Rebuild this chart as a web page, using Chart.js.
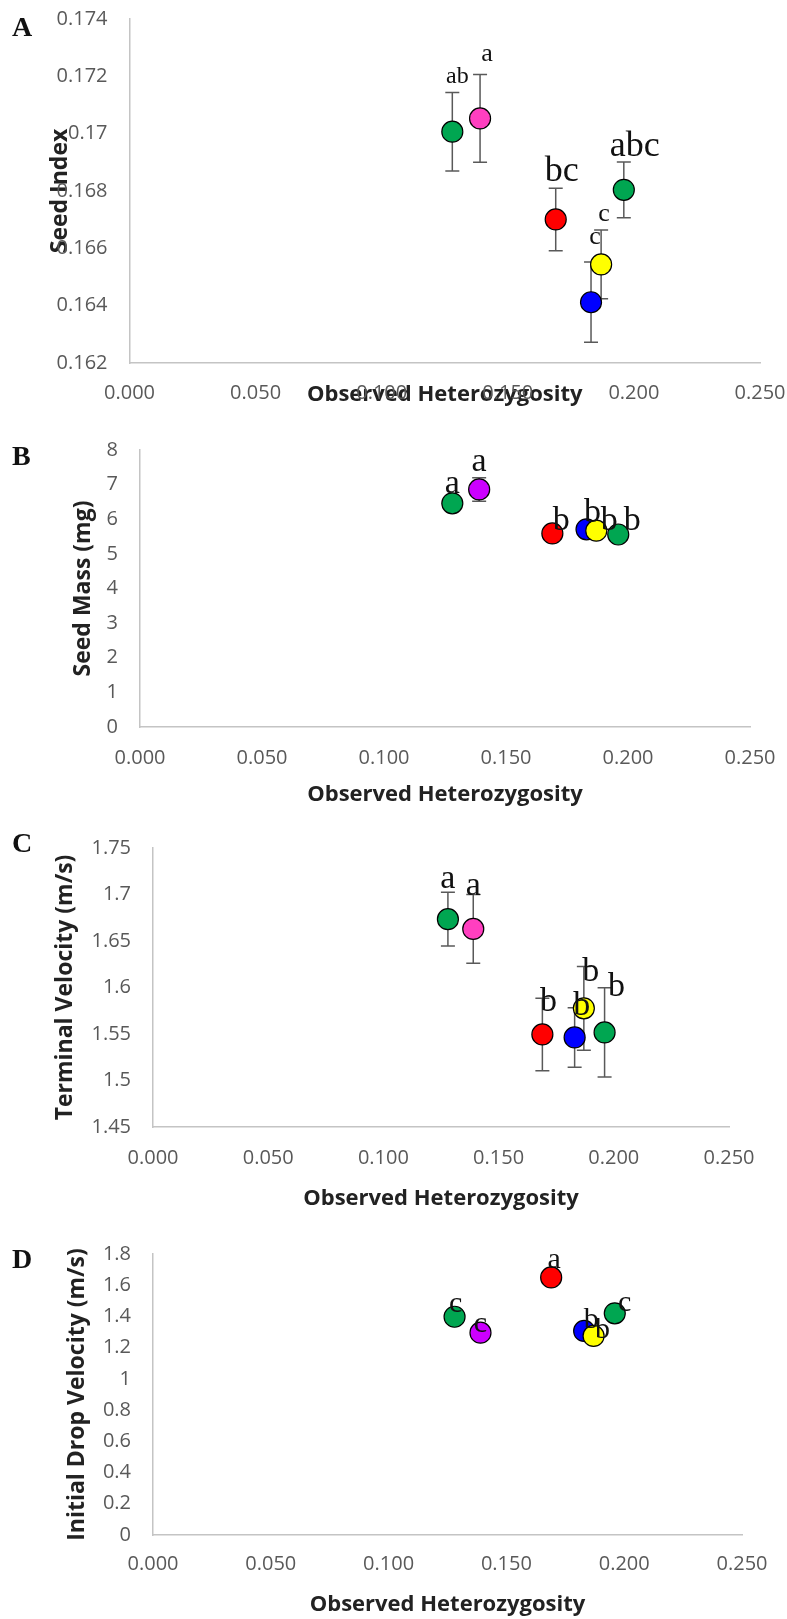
<!DOCTYPE html>
<html>
<head>
<meta charset="utf-8">
<script src="https://cdn.jsdelivr.net/npm/chart.js@4"></script>
<style>
  body { margin: 0; background: #fff; }
  #page { position: relative; width: 787px; height: 1619px; overflow: hidden; }
  .panel { position: absolute; left: 0; width: 787px; }
</style>
</head>
<body>
<div id="page"></div>
<script>
// order of accessions: green, pink/purple, red, blue, yellow, green
const heterozygosity = [0.128, 0.139, 0.169, 0.183, 0.187, 0.196];

const seedIndex = [0.17007, 0.17053, 0.16701, 0.16412, 0.16544, 0.16804];
const seedIndexErr = [0.00137, 0.00153, 0.00109, 0.0014, 0.0012, 0.00097];
const seedIndexGroups = ["ab", "a", "bc", "c", "c", "abc"];

const seedMass = [6.46, 6.86, 5.59, 5.71, 5.67, 5.56];
const seedMassErr = [0.15, 0.34, 0.15, 0.15, 0.15, 0.15];
const seedMassGroups = ["a", "a", "b", "b", "b", "b"];

const terminalVelocity = [1.6735, 1.663, 1.5495, 1.5463, 1.5776, 1.5517];
const terminalVelocityErr = [0.029, 0.037, 0.039, 0.032, 0.045, 0.048];
const terminalVelocityGroups = ["a", "a", "b", "b", "b", "b"];

const dropVelocity = [1.398, 1.296, 1.65, 1.307, 1.275, 1.42];
const dropVelocityGroups = ["c", "c", "a", "b", "b", "c"];

const xTickValues = [0, 0.05, 0.1, 0.15, 0.2, 0.25];
const xTickLabels = ["0.000", "0.050", "0.100", "0.150", "0.200", "0.250"];

const seedIndexTicks = [0.162, 0.164, 0.166, 0.168, 0.17, 0.172, 0.174];
const seedIndexTickLabels = ["0.162", "0.164", "0.166", "0.168", "0.17", "0.172", "0.174"];
const seedMassTicks = [0, 1, 2, 3, 4, 5, 6, 7, 8];
const seedMassTickLabels = ["0", "1", "2", "3", "4", "5", "6", "7", "8"];
const terminalTicks = [1.45, 1.5, 1.55, 1.6, 1.65, 1.7, 1.75];
const terminalTickLabels = ["1.45", "1.5", "1.55", "1.6", "1.65", "1.7", "1.75"];
const dropTicks = [0, 0.2, 0.4, 0.6, 0.8, 1, 1.2, 1.4, 1.6, 1.8];
const dropTickLabels = ["0", "0.2", "0.4", "0.6", "0.8", "1", "1.2", "1.4", "1.6", "1.8"];

const colorsPink = ["#00a651", "#ff3fc0", "#ff0000", "#0000ff", "#ffff00", "#00a651"];
const colorsPurple = ["#00a651", "#cc00ff", "#ff0000", "#0000ff", "#ffff00", "#00a651"];

const panels = [
  {
    letter: "A", top: 0, height: 420,
    area: { left: 129.5, right: 760, top: 19, bottom: 363 },
    xTitleY: 395, yTitleX: 60, tickGap: 30,
    yTitle: "Seed Index", values: seedIndex, errors: seedIndexErr, groups: seedIndexGroups,
    yTicks: seedIndexTicks, yTickLabels: seedIndexTickLabels, colors: colorsPink,
    letterBaseline: 36,
    nudge: [[5, -49], [7, -57], [6, -38], [4, -58], [3, -43], [11, -34]],
    sizes: [24, 26, 36, 26, 26, 36],
  },
  {
    letter: "B", top: 420, height: 400,
    area: { left: 140, right: 750, top: 450, bottom: 727 },
    xTitleY: 795, yTitleX: 83, tickGap: 31,
    yTitle: "Seed Mass (mg)", values: seedMass, errors: seedMassErr, groups: seedMassGroups,
    yTicks: seedMassTicks, yTickLabels: seedMassTickLabels, colors: colorsPurple,
    letterBaseline: 465,
    nudge: [[0, -10], [0, -18], [9, -3], [6, -7], [13, -1], [14, -4]],
    sizes: [34, 34, 34, 34, 34, 34],
  },
  {
    letter: "C", top: 820, height: 405,
    area: { left: 153, right: 729, top: 848, bottom: 1127 },
    xTitleY: 1199, yTitleX: 65, tickGap: 31,
    yTitle: "Terminal Velocity (m/s)", values: terminalVelocity, errors: terminalVelocityErr,
    groups: terminalVelocityGroups,
    yTicks: terminalTicks, yTickLabels: terminalTickLabels, colors: colorsPink,
    letterBaseline: 852,
    nudge: [[0, -31], [0, -34], [6, -23], [7, -22], [7, -27], [12, -36]],
    sizes: [34, 34, 34, 34, 34, 34],
  },
  {
    letter: "D", top: 1225, height: 394,
    area: { left: 153, right: 742, top: 1254, bottom: 1535 },
    xTitleY: 1605, yTitleX: 77, tickGap: 29,
    yTitle: "Initial Drop Velocity (m/s)", values: dropVelocity, errors: null,
    groups: dropVelocityGroups,
    yTicks: dropTicks, yTickLabels: dropTickLabels, colors: colorsPurple,
    letterBaseline: 1268,
    nudge: [[1, -5], [0, -1], [3, -9], [7, -3], [9, 2], [10, -2]],
    sizes: [30, 30, 30, 30, 30, 30],
  },
];

const tickFont = { family: "'Open Sans', sans-serif", size: 20, lineHeight: 1.2 };
const xTitleFont = { family: "'Open Sans', sans-serif", size: 22, weight: "bold", lineHeight: 1.2 };
const yTitleFont = { family: "'Open Sans', sans-serif", size: 23, weight: "bold", lineHeight: 1.2 };
const tickHalf = 20 * 1.2 / 2;
const xTitleHalf = 22 * 1.2 / 2;
const yTitleHalf = 23 * 1.2 / 2;

const errorBars = {
  id: "errorBars",
  beforeDatasetsDraw(chart, args, opts) {
    if (!opts.errors) return;
    const { ctx, scales: { x, y } } = chart;
    const pts = chart.data.datasets[0].data;
    ctx.save();
    ctx.strokeStyle = "#595959";
    ctx.lineWidth = 1.5;
    pts.forEach((p, i) => {
      const px = x.getPixelForValue(p.x);
      const top = y.getPixelForValue(p.y + opts.errors[i]);
      const bot = y.getPixelForValue(p.y - opts.errors[i]);
      ctx.beginPath();
      ctx.moveTo(px, top); ctx.lineTo(px, bot);
      ctx.moveTo(px - 7, top); ctx.lineTo(px + 7, top);
      ctx.moveTo(px - 7, bot); ctx.lineTo(px + 7, bot);
      ctx.stroke();
    });
    ctx.restore();
  },
};

const groupLetters = {
  id: "groupLetters",
  afterDatasetsDraw(chart, args, opts) {
    const { ctx, scales: { x, y } } = chart;
    const pts = chart.data.datasets[0].data;
    ctx.save();
    ctx.fillStyle = "#111";
    ctx.textAlign = "center";
    ctx.textBaseline = "alphabetic";
    pts.forEach((p, i) => {
      ctx.font = opts.sizes[i] + "px 'Liberation Serif', serif";
      ctx.fillText(opts.groups[i], x.getPixelForValue(p.x) + opts.nudge[i][0],
        y.getPixelForValue(p.y) + opts.nudge[i][1]);
    });
    ctx.font = "bold 28px 'Liberation Serif', serif";
    ctx.textAlign = "left";
    ctx.fillText(opts.letter, 12, opts.letterBaseline);
    ctx.restore();
  },
};

const page = document.getElementById("page");

for (const p of panels) {
  const box = document.createElement("div");
  box.className = "panel";
  box.style.top = p.top + "px";
  box.style.height = p.height + "px";
  const canvas = document.createElement("canvas");
  box.appendChild(canvas);
  page.appendChild(box);

  const bottomSpace = p.top + p.height - p.area.bottom;

  new Chart(canvas, {
    type: "scatter",
    data: {
      datasets: [{
        data: heterozygosity.map((h, i) => ({ x: h, y: p.values[i] })),
        pointRadius: 10.5,
        pointHoverRadius: 10.5,
        pointBackgroundColor: p.colors,
        pointBorderColor: "#000",
        pointBorderWidth: 1.2,
      }],
    },
    options: {
      responsive: true,
      maintainAspectRatio: false,
      animation: false,
      layout: {
        padding: { top: p.area.top - p.top, right: 787 - p.area.right, left: 0, bottom: 0 },
      },
      plugins: {
        legend: { display: false },
        tooltip: { enabled: false },
        errorBars: { errors: p.errors },
        groupLetters: {
          groups: p.groups, nudge: p.nudge, sizes: p.sizes,
          letter: p.letter, letterBaseline: p.letterBaseline - p.top,
        },
      },
      scales: {
        x: {
          type: "linear",
          min: 0,
          max: 0.25,
          afterFit: (s) => {
            s.height = bottomSpace;
            s.paddingLeft = 0;
            s.paddingRight = 0;
          },
          afterBuildTicks: (s) => { s.ticks = xTickValues.map((v) => ({ value: v })); },
          grid: { display: false, drawTicks: false },
          border: { display: true, color: "#c4c4c4", width: 1.5 },
          ticks: {
            font: tickFont, color: "#595959", padding: p.tickGap - tickHalf,
            maxRotation: 0, autoSkip: false,
            callback: (v, i) => xTickLabels[i],
          },
          title: {
            display: true, text: "Observed Heterozygosity", color: "#222", font: xTitleFont,
            padding: { top: 0, bottom: p.top + p.height - p.xTitleY - xTitleHalf },
          },
        },
        y: {
          type: "linear",
          min: p.yTicks[0],
          max: p.yTicks[p.yTicks.length - 1],
          afterFit: (s) => {
            s.width = p.area.left;
            s.paddingTop = 0;
            s.paddingBottom = 0;
          },
          afterBuildTicks: (s) => { s.ticks = p.yTicks.map((v) => ({ value: v })); },
          grid: { display: false, drawTicks: false },
          border: { display: true, color: "#c4c4c4", width: 1.5 },
          ticks: {
            font: tickFont, color: "#595959", padding: 22, autoSkip: false,
            callback: (v, i) => p.yTickLabels[i],
          },
          title: {
            display: true, text: p.yTitle, color: "#222", font: yTitleFont,
            padding: { top: p.yTitleX - yTitleHalf, bottom: 0 },
          },
        },
      },
    },
    plugins: [errorBars, groupLetters],
  });
}
</script>
</body>
</html>
